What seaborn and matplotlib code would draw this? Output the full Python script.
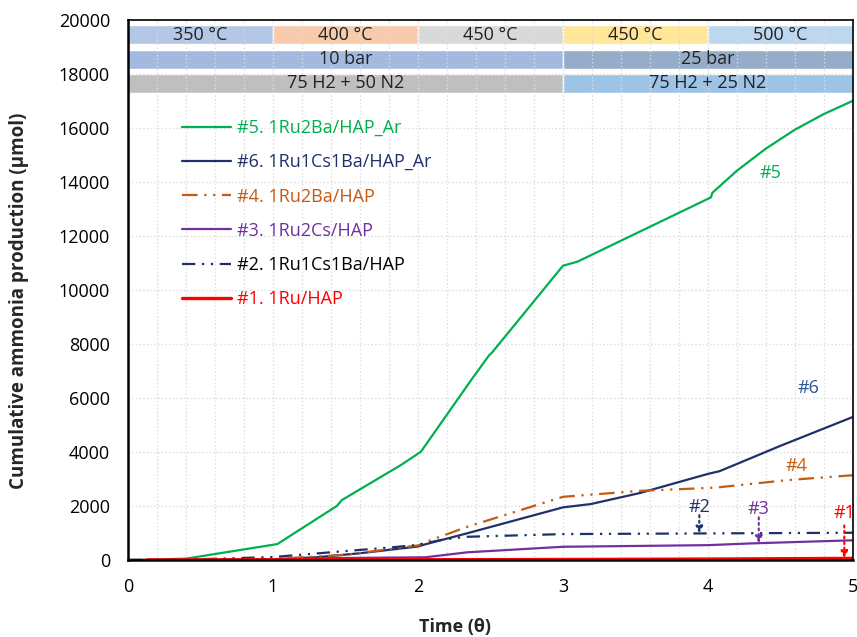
import numpy as np
import pandas as pd
import matplotlib
matplotlib.use("Agg")
import matplotlib.pyplot as plt
from matplotlib.ticker import MultipleLocator
import seaborn as sns

# series (time in theta, cumulative NH3 in umol)
t5 = [0.1, 0.4, 1.03, 1.44, 1.475, 1.88, 2.02, 2.37, 2.49, 2.51, 3.0, 3.1, 4.02, 4.03, 4.2, 4.4, 4.6, 4.8, 5.0]
y5 = [0, 50, 590, 2000, 2220, 3510, 4010, 6690, 7580, 7680, 10900, 11050, 13430, 13600, 14420, 15240, 15940, 16520, 17010]

t6 = [0.0, 0.5, 1.0, 1.3, 1.6, 2.0, 2.05, 2.34, 3.0, 3.19, 3.53, 4.0, 4.08, 4.5, 5.0]
y6 = [0, 10, 30, 100, 250, 500, 580, 990, 1950, 2070, 2480, 3190, 3290, 4230, 5300]

t4 = [0.0, 0.5, 1.0, 1.5, 2.0, 2.09, 2.34, 3.0, 3.3, 3.53, 4.05, 4.55, 5.0]
y4 = [0, 15, 40, 190, 540, 740, 1230, 2340, 2465, 2560, 2680, 2960, 3140]

t3 = [0.0, 1.0, 1.4, 2.05, 2.34, 3.0, 4.0, 4.3, 5.0]
y3 = [0, 10, 70, 100, 285, 490, 550, 615, 730]

t2 = [0.0, 0.5, 1.0, 1.5, 1.8, 2.0, 2.18, 2.34, 3.0, 4.0, 5.0]
y2 = [0, 30, 110, 330, 460, 560, 765, 860, 960, 985, 1010]

t1 = [0.13, 1.0, 2.0, 3.0, 4.0, 5.0]
y1 = [0, 5, 10, 20, 35, 60]

labels = ["#5. 1Ru2Ba/HAP_Ar", "#6. 1Ru1Cs1Ba/HAP_Ar", "#4. 1Ru2Ba/HAP",
          "#3. 1Ru2Cs/HAP", "#2. 1Ru1Cs1Ba/HAP", "#1. 1Ru/HAP"]

# condition bands along the top
temp_start = [0, 1, 2, 3, 4]
temp_width = [1, 1, 1, 1, 1]
temp_text = ["350 °C", "400 °C", "450 °C", "450 °C", "500 °C"]
pres_start = [0, 3]
pres_width = [3, 2]
pres_text = ["10 bar", "25 bar"]
gas_start = [0, 3]
gas_width = [3, 2]
gas_text = ["75 H2 + 50 N2", "75 H2 + 25 N2"]

sns.set_style("white")
plt.rcParams['font.family'] = ['Open Sans', 'DejaVu Sans']

fig = plt.figure(figsize=(8.57, 6.37), dpi=100)
ax = fig.add_axes([128 / 857, 1 - 560 / 637, 725 / 857, 540 / 637])

series = [(t5, y5), (t6, y6), (t4, y4), (t3, y3), (t2, y2), (t1, y1)]
colors = ["#00b050", "#1f3168", "#c55a11", "#7030a0", "#1f3168", "#ff0000"]
widths = [1.6, 1.6, 1.6, 1.6, 1.6, 2.4]
dashes = [None, None, (7, 3, 1, 3, 1, 3), None, (6, 3, 1, 3, 1, 3), None]

for (t, y), c, lw, d, lab in zip(series, colors, widths, dashes, labels):
    sns.lineplot(x=t, y=y, ax=ax, color=c, linewidth=lw, label=lab, estimator=None, sort=False)
    if d is not None:
        ax.get_lines()[-1].set_dashes(d)

# bands
band_rows = [
    (temp_start, temp_width, temp_text, ["#b4c7e7", "#f8cbad", "#d9d9d9", "#ffe699", "#bdd7ee"], 19450),
    (pres_start, pres_width, pres_text, ["#a3b9e0", "#95adc8"], 18540),
    (gas_start, gas_width, gas_text, ["#bfbfbf", "#9dc3e6"], 17660),
]
for starts, ws, texts, cols, yc in band_rows:
    ax.barh([yc] * len(starts), ws, left=starts, height=700, color=cols, zorder=0.2)
    for s, w, txt in zip(starts, ws, texts):
        ax.text(s + w / 2, yc, txt, ha="center", va="center", fontsize=13, color="#222222")

# arrows + labels
ax.text(4.43, 14350, "#5", color="#00b050", fontsize=13, ha="center", va="center")
ax.text(4.69, 6360, "#6", color="#2f5597", fontsize=13, ha="center", va="center")
ax.text(4.61, 3480, "#4", color="#c55a11", fontsize=13, ha="center", va="center")
arrow_labels = [("#2", 3.94, 1950, 1660, 985, "#1f3168"),
                ("#3", 4.35, 1900, 1580, 625, "#7030a0"),
                ("#1", 4.94, 1730, 1280, 70, "#ff0000")]
for txt, xa, yt, ytail, ytip, c in arrow_labels:
    ax.text(xa, yt, txt, color=c, fontsize=13, ha="center", va="center")
    ax.annotate("", xy=(xa, ytip), xytext=(xa, ytail),
                arrowprops=dict(arrowstyle="-|>", linestyle=":", color=c, lw=1.5,
                                mutation_scale=10, shrinkA=0, shrinkB=0))

ax.set_xlim(0, 5)
ax.set_ylim(0, 20000)
ax.xaxis.set_major_locator(MultipleLocator(1))
ax.xaxis.set_minor_locator(MultipleLocator(0.2))
ax.yaxis.set_major_locator(MultipleLocator(2000))
ax.yaxis.set_minor_locator(MultipleLocator(400))
ax.grid(True, which="major", axis="y", color="#dcdcdc", linestyle=":", linewidth=1)
ax.grid(True, which="both", axis="x", color="#dcdcdc", linestyle=":", linewidth=1)
ax.set_axisbelow(True)
ax.tick_params(axis="both", which="major", direction="inout", length=8, width=1.2,
               labelsize=13, colors="black")
ax.tick_params(axis="y", which="minor", direction="in", length=4, width=1)
ax.tick_params(axis="x", which="minor", length=0)
ax.tick_params(axis="x", which="major", pad=9)
ax.tick_params(axis="y", which="major", pad=9)
for sp in ax.spines.values():
    sp.set_color("black")
    sp.set_linewidth(1.2)
ax.spines["left"].set_linewidth(1.8)
ax.spines["bottom"].set_linewidth(1.8)

ax.set_xlabel("Time (θ)", fontsize=13, fontweight="bold")
ax.set_ylabel("Cumulative ammonia production (µmol)", fontsize=13.5, fontweight="bold")
ax.xaxis.set_label_coords(0.451, -0.108)
ax.yaxis.set_label_coords(-0.137, 0.48)

leg = ax.legend(loc="upper left", bbox_to_anchor=(0.065, 0.83), frameon=False,
                fontsize=13, handlelength=2.7, handletextpad=0.3, labelspacing=0.9,
                borderaxespad=0)
for txt, c in zip(leg.get_texts(), ["#00b050", "#1f3168", "#c55a11", "#7030a0", "black", "#ff0000"]):
    txt.set_color(c)

fig.savefig("out.png", dpi=100)
